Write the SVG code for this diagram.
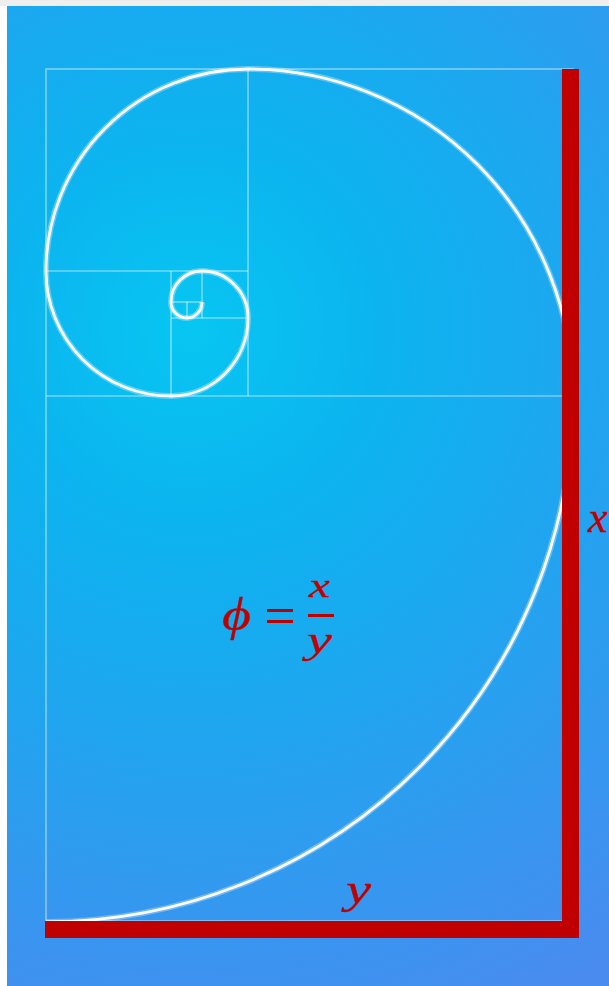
<svg xmlns="http://www.w3.org/2000/svg" width="609" height="986" viewBox="0 0 609 986">
  <defs>
    <radialGradient id="bg" gradientUnits="userSpaceOnUse" cx="190" cy="330" r="760">
      <stop offset="0" stop-color="#07c6f2"/>
      <stop offset="0.25" stop-color="#0cb4ef"/>
      <stop offset="0.5" stop-color="#1da7ef"/>
      <stop offset="0.78" stop-color="#3697ef"/>
      <stop offset="1" stop-color="#4a8bef"/>
    </radialGradient>
    <style>
      .grid { fill: none; stroke: #ffffff; stroke-opacity: 0.42; stroke-width: 1.7; }
      .glow { fill: none; stroke: #ffffff; stroke-opacity: 0.3; stroke-width: 6; }
      .spiral { fill: none; stroke: #ffffff; stroke-width: 2.8; }
      .bar { stroke: #c00000; stroke-width: 17; stroke-linecap: butt; fill: none; }
      .math { fill: #c00000; stroke: #c00000; stroke-width: 0.3; font-family: "Liberation Serif", "DejaVu Serif", serif; font-style: italic; }
    </style>
  </defs>

  <rect x="0" y="0" width="609" height="986" fill="#ffffff"/>
  <rect x="0" y="0" width="609" height="6" fill="#eeeeee"/>
  <rect x="7" y="6" width="602" height="980" fill="url(#bg)"/>

  <g id="grid">
    <rect class="grid" x="46" y="69" width="527" height="852"/>
    <line class="grid" x1="46" y1="396" x2="573" y2="396"/>
    <line class="grid" x1="248" y1="69" x2="248" y2="396"/>
    <line class="grid" x1="46" y1="271" x2="248" y2="271"/>
    <line class="grid" x1="171" y1="271" x2="171" y2="396"/>
    <line class="grid" x1="171" y1="318" x2="248" y2="318"/>
    <line class="grid" x1="202" y1="271" x2="202" y2="318"/>
    <line class="grid" x1="171" y1="302" x2="202" y2="302"/>
    <line class="grid" x1="187" y1="302" x2="187" y2="318"/>
  </g>

  <g id="spiral">
    <path class="glow" d="M46 922 A527 526 0 0 0 573 396 A325 327 0 0 0 248 69 A202 202 0 0 0 46 271 A125 125 0 0 0 171 396 A77 78 0 0 0 248 318 A46 47 0 0 0 202 271 A31 31 0 0 0 171 302 A16 16 0 0 0 187 318 A15 16 0 0 0 202 302"/>
    <path class="spiral" d="M46 922 A527 526 0 0 0 573 396 A325 327 0 0 0 248 69 A202 202 0 0 0 46 271 A125 125 0 0 0 171 396 A77 78 0 0 0 248 318 A46 47 0 0 0 202 271 A31 31 0 0 0 171 302 A16 16 0 0 0 187 318 A15 16 0 0 0 202 302"/>
  </g>

  <g id="bars">
    <line class="bar" x1="570.5" y1="69" x2="570.5" y2="938"/>
    <line class="bar" x1="45" y1="929.5" x2="570" y2="929.5"/>
  </g>

  <g id="label-x">
    <text class="math" x="588" y="532" font-size="44">x</text>
  </g>
  <g id="label-y">
    <text class="math" x="346" y="903" font-size="42" textLength="25" lengthAdjust="spacingAndGlyphs">y</text>
  </g>
  <g id="formula">
    <text class="math" x="222" y="630" font-size="46" textLength="29" lengthAdjust="spacingAndGlyphs">ϕ</text>
    <rect x="267" y="609" width="26" height="3" fill="#c00000"/>
    <rect x="267" y="620" width="26" height="3" fill="#c00000"/>
    <text class="math" x="309" y="597" font-size="34" textLength="21" lengthAdjust="spacingAndGlyphs">x</text>
    <rect x="308" y="614" width="26" height="3" fill="#c00000"/>
    <text class="math" x="307" y="653" font-size="37" textLength="25" lengthAdjust="spacingAndGlyphs">y</text>
  </g>
</svg>
